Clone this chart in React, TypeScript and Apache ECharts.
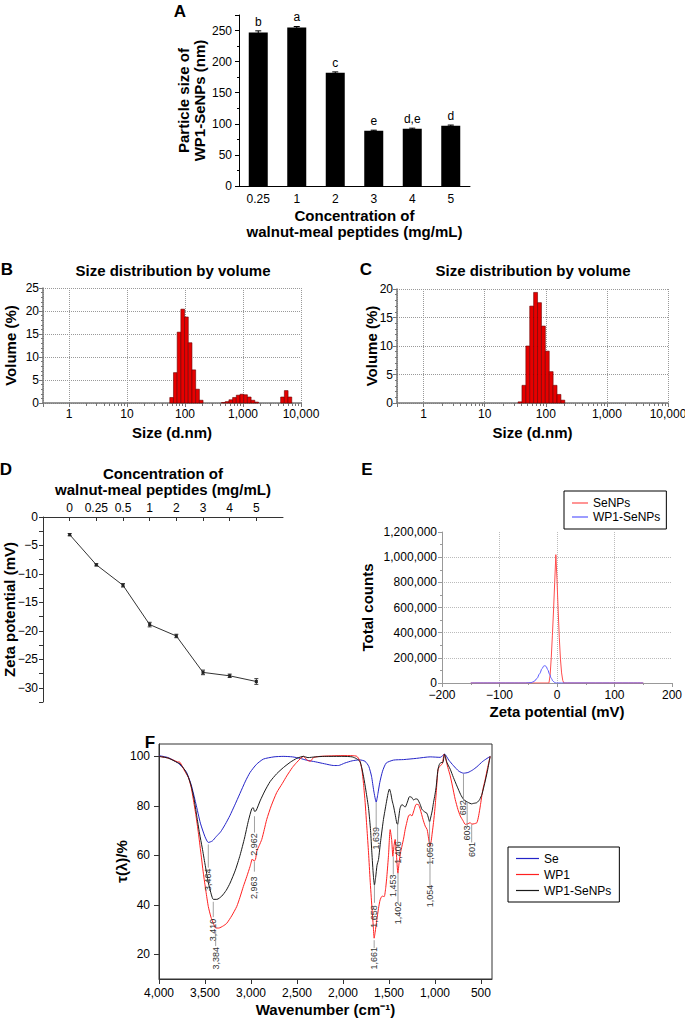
import React, { useEffect, useRef } from 'react';
import * as echarts from 'echarts';

const FONT = '"Liberation Sans", Arial, Helvetica, sans-serif';

// ---------- Panel A ----------
const aCategories = ['0.25', '1', '2', '3', '4', '5'];
const aSizes = [247, 255, 182, 89, 92, 97];
const aErrors = [2.5, 1.5, 1.5, 0.8, 1.0, 1.0];
const aLetters = ['b', 'a', 'c', 'e', 'd,e', 'd'];

// ---------- Panel B / C ----------
const bSizes = [58.77, 68.06, 78.82, 91.28, 105.7, 122.4, 141.8, 164.2, 190.1, 458.7, 531.2, 615.1, 712.4, 825.0, 955.4, 1106, 1281, 1484, 1718, 4801, 5560, 6439];
const bVolumes = [1.2, 6.6, 15.4, 20.4, 18.7, 13.1, 7.2, 3.0, 0.6, 0.1, 0.3, 0.7, 1.2, 1.7, 1.9, 1.8, 1.3, 0.6, 0.2, 1.3, 2.7, 1.3];
const cSizes = [37.84, 43.82, 50.75, 58.77, 68.06, 78.82, 91.28, 105.7, 122.4, 141.8, 164.2, 190.1];
const cVolumes = [0.2, 3.1, 10.0, 17.0, 19.4, 17.6, 13.5, 9.1, 5.5, 3.1, 1.5, 0.5];
const sizeMinorTicks = [2, 3, 4, 5, 6, 7, 8, 9, 20, 30, 40, 50, 60, 70, 80, 90, 200, 300, 400, 500, 600, 700, 800, 900, 2000, 3000, 4000, 5000, 6000, 7000, 8000, 9000];
const BIN_HALF = 1.0763;

// ---------- Panel D ----------
const dConcentrations = ['0', '0.25', '0.5', '1', '2', '3', '4', '5'];
const dZeta = [-3.1, -8.4, -12.0, -18.9, -20.9, -27.3, -27.9, -28.9];
const dErrors = [0.2, 0.2, 0.3, 0.4, 0.3, 0.4, 0.3, 0.5];
const dPositions = [0, 1, 2, 3, 4, 5, 6, 7];
const dZetaLabels = [0, -5, -10, -15, -20, -25, -30];
const dZetaTicks = [0, -2.5, -5, -7.5, -10, -12.5, -15, -17.5, -20, -22.5, -25, -27.5, -30, -32.5];

// ---------- Panel E ----------
const eSeNPs = [[-150, 0], [-40, 0], [-14, 0], [-12, 60000], [-10, 200000], [-8, 380000], [-6, 580000], [-4, 800000], [-2, 1020000], [0, 820000], [2, 580000], [4, 360000], [6, 190000], [8, 80000], [10, 20000], [12, 0], [150, 0]];
const eWP1SeNPs = [[-150, 0], [-55, 0], [-45, 3000], [-40, 12000], [-35, 35000], [-30, 75000], [-26, 115000], [-23, 135000], [-21, 138000], [-19, 132000], [-16, 105000], [-13, 70000], [-10, 38000], [-7, 15000], [-4, 4000], [-1, 0], [150, 0]];

// ---------- Panel F ----------
const fSe = [[4000, 100.3], [3900, 99.5], [3800, 97.5], [3750, 95.8], [3700, 93.5], [3650, 88.5], [3600, 81], [3550, 73], [3500, 67.5], [3464, 65.2], [3420, 65.8], [3380, 67.5], [3330, 69.5], [3280, 72.5], [3230, 76], [3180, 80], [3120, 85], [3060, 90], [3010, 93.5], [2940, 96.8], [2865, 98.9], [2750, 99.8], [2650, 100], [2550, 99.8], [2466, 99.2], [2400, 98.5], [2300, 97.8], [2200, 97], [2100, 96.3], [2050, 96.3], [1980, 97.3], [1900, 98.2], [1820, 98.6], [1760, 98], [1720, 96], [1690, 92], [1665, 86], [1639, 81.5], [1620, 85], [1600, 89.4], [1570, 94], [1530, 97.3], [1450, 98.5], [1342, 98.7], [1200, 99.2], [1052, 99.8], [943, 99.6], [896, 100.9], [850, 98.5], [798, 96.2], [740, 94], [689, 93.2], [640, 93.5], [590, 94.5], [544, 95.8], [480, 98], [400, 100]];
const fWP1 = [[4000, 100], [3900, 99.3], [3800, 97.8], [3772, 97.6], [3720, 94], [3681, 91.5], [3650, 87.5], [3627, 82.6], [3600, 76.5], [3572, 69.1], [3545, 61], [3518, 52.8], [3490, 45.5], [3464, 39.3], [3435, 35], [3409, 32.5], [3384, 30.6], [3350, 30.6], [3300, 31.5], [3264, 32.5], [3210, 35.5], [3155, 39.3], [3120, 43], [3083, 47.4], [3045, 51.5], [3010, 55.5], [2985, 58.5], [2966, 57.6], [2950, 58.5], [2938, 61.6], [2910, 64], [2883, 66.4], [2855, 70.5], [2829, 74.5], [2780, 80], [2720, 85.4], [2660, 89], [2611, 92.1], [2550, 95.5], [2502, 97.6], [2430, 100], [2390, 98.5], [2357, 98], [2320, 99.5], [2250, 100], [2000, 100.3], [1900, 100.3], [1849, 100], [1820, 98.5], [1795, 94.8], [1777, 89], [1759, 81.3], [1740, 71], [1722, 61], [1705, 50], [1686, 39.3], [1670, 31], [1661, 26.5], [1650, 29], [1632, 33.9], [1614, 38.5], [1596, 42], [1574, 43.5], [1552, 43.3], [1535, 47], [1523, 51.5], [1505, 60], [1487, 70.4], [1470, 66], [1458, 59.6], [1445, 64], [1433, 66.4], [1420, 61], [1403, 52.8], [1390, 57], [1375, 61], [1359, 63.7], [1340, 67], [1324, 70.4], [1305, 73.5], [1288, 75.9], [1270, 76.5], [1251, 75.9], [1230, 78], [1204, 80.6], [1180, 80.5], [1160, 78.6], [1130, 74.5], [1106, 71.8], [1085, 70.4], [1070, 67], [1054, 63.7], [1040, 66], [1030, 69], [1016, 73.2], [1000, 79], [986, 85.4], [966, 94.8], [943, 96.2], [920, 97], [900, 100.9], [880, 98.5], [860, 95.5], [834, 92.1], [810, 88], [780, 82.6], [750, 78.5], [725, 75.9], [695, 74], [671, 72.5], [640, 72.8], [616, 73.2], [601, 72.6], [570, 72.8], [544, 73.2], [525, 76], [507, 80], [480, 86.5], [453, 90.8], [430, 95], [400, 100]];
const fWP1SeNPs = [[4000, 100], [3900, 99.3], [3800, 97.5], [3770, 96.9], [3720, 94.5], [3680, 91.5], [3650, 88], [3620, 83], [3590, 76], [3560, 69], [3530, 63], [3500, 56.5], [3464, 49], [3430, 44], [3410, 42.2], [3370, 42.2], [3318, 43.5], [3270, 45.8], [3227, 48.8], [3170, 54], [3119, 60], [3070, 67], [3028, 74], [2991, 78.9], [2975, 79.2], [2962, 77.8], [2945, 78], [2901, 82], [2850, 86], [2792, 89.8], [2720, 93], [2647, 95.5], [2570, 97.7], [2502, 99.2], [2430, 100], [2380, 99.5], [2300, 99.8], [2200, 100], [2000, 100], [1900, 99.8], [1850, 99], [1813, 97.8], [1777, 92], [1750, 86], [1722, 79], [1700, 70], [1686, 61], [1670, 52], [1658, 48], [1645, 51], [1630, 56], [1614, 58.3], [1590, 66], [1560, 74.5], [1530, 81], [1510, 85], [1495, 86.8], [1480, 85], [1465, 82], [1451, 80], [1430, 76], [1415, 73], [1406, 72.5], [1395, 75], [1380, 79], [1360, 80.5], [1340, 80], [1324, 79.5], [1300, 81.5], [1277, 83.7], [1255, 83.5], [1233, 82.4], [1210, 82.8], [1190, 82.7], [1160, 80.5], [1142, 78.6], [1110, 77.5], [1088, 77], [1070, 75], [1059, 73.5], [1045, 75.5], [1030, 78], [1016, 81.3], [1000, 84.5], [986, 88], [970, 94], [955, 96.5], [935, 97.5], [915, 97.5], [896, 100.9], [870, 97.5], [834, 94.8], [800, 91.5], [761, 88], [720, 84.5], [689, 82.6], [660, 81.8], [635, 81.3], [603, 80.8], [580, 81], [544, 81.3], [515, 82.5], [489, 84.7], [460, 89], [430, 94], [400, 100]];
const fWavenumberTicks = [4000, 3500, 3000, 2500, 2000, 1500, 1000, 500];
const fTransmittanceTicks = [20, 40, 60, 80, 100];
const fPeakLabels = ['3,464', '3,410', '3,384', '2,962', '2,963', '1,639', '1,658', '1,661', '1,453', '1,406', '1,402', '1,059', '1,054', '682', '603', '601'];
const fPeakWn = [3464, 3410, 3384, 2962, 2963, 1639, 1658, 1661, 1453, 1406, 1402, 1059, 1054, 690, 650, 601];
const fPeakLineTop = [64.4, 41.2, 29.4, 75.8, 57.5, 81.4, 48.1, 25.7, 59.5, 72.5, 53.0, 73.8, 63.6, 92.9, 81.5, 72.5];
const fPeakLineBottom = [55.0, 35.0, 23.3, 69.2, 53.4, 71.3, 40.8, 22.5, 52.2, 65.2, 40.8, 64.4, 46.9, 81.9, 71.7, 65.2];
const fPeakTextY = [50.1, 29.8, 18.4, 64.4, 46.9, 66.9, 35.3, 18.4, 47.7, 61.1, 36.7, 60.7, 43.6, 79.2, 69.0, 62.4];

const minus = (v: number) => (v < 0 ? '\u2212' + Math.abs(v) : String(v));
const thousands = (v: number) => {
  const s = Math.abs(v).toLocaleString('en-US');
  return v < 0 ? '\u2212' + s : s;
};
const decadeLabel = (v: number) => {
  const l = Math.log10(v);
  const r = Math.round(l);
  return Math.abs(l - r) < 0.01 ? Math.pow(10, r).toLocaleString('en-US') : '';
};

const nameStyle = { fontWeight: 'bold', fontSize: 15, color: '#000', fontFamily: FONT, lineHeight: 16 };
const labelStyle = { fontSize: 12, color: '#000', fontFamily: FONT };

function errorItem(capHalf: number, color: string) {
  return (params: any, api: any) => {
    const x = api.value(0);
    const lo = api.coord([x, api.value(1)]);
    const hi = api.coord([x, api.value(2)]);
    const st = { stroke: color, lineWidth: 1 };
    return {
      type: 'group',
      children: [
        { type: 'line', shape: { x1: lo[0], y1: lo[1], x2: hi[0], y2: hi[1] }, style: st },
        { type: 'line', shape: { x1: hi[0] - capHalf, y1: hi[1], x2: hi[0] + capHalf, y2: hi[1] }, style: st },
        { type: 'line', shape: { x1: lo[0] - capHalf, y1: lo[1], x2: lo[0] + capHalf, y2: lo[1] }, style: st },
      ],
    };
  };
}

function histItem(params: any, api: any) {
  const s = api.value(0);
  const v = api.value(1);
  const p0 = api.coord([s / BIN_HALF, v]);
  const p1 = api.coord([s * BIN_HALF, 0]);
  return {
    type: 'rect',
    shape: { x: p0[0], y: p0[1], width: p1[0] - p0[0], height: p1[1] - p0[1] },
    style: { fill: '#e60000', stroke: '#6a0000', lineWidth: 0.6 },
  };
}

function peakItem(params: any, api: any) {
  const wn = api.value(0);
  const a = api.coord([wn, api.value(1)]);
  const b = api.coord([wn, api.value(2)]);
  const t = api.coord([wn, api.value(3)]);
  return {
    type: 'group',
    children: [
      { type: 'line', shape: { x1: a[0], y1: a[1], x2: b[0], y2: b[1] }, style: { stroke: '#8a8a8a', lineWidth: 0.8 } },
      {
        type: 'text', x: t[0], y: t[1], rotation: Math.PI / 2,
        style: {
          text: fPeakLabels[params.dataIndex], fontSize: 9, fontFamily: FONT, fill: '#333',
          textAlign: 'center', textVerticalAlign: 'middle', align: 'center', verticalAlign: 'middle',
        },
      },
    ],
  };
}

function txt(text: string, x: number, y: number, size: number) {
  return {
    type: 'text', x, y,
    style: {
      text, fontSize: size, fontWeight: 'bold', fontFamily: FONT, fill: '#000',
      textAlign: 'center', textVerticalAlign: 'middle', align: 'center', verticalAlign: 'middle',
    },
  };
}

function buildOption(): any {
  const bMin = 0.3556;
  const cMin = 0.367;
  const logMain = (grid: number, min: number) => ({
    gridIndex: grid, type: 'log', logBase: 10, min, max: 10000,
    axisLine: { show: true, onZero: false, lineStyle: { color: '#777', width: 1.5 } },
    axisTick: { show: true, length: 4, lineStyle: { color: '#777' } },
    axisLabel: { ...labelStyle, margin: 5, formatter: decadeLabel, hideOverlap: false },
    splitLine: { show: true, lineStyle: { type: 'dotted', color: '#999' } },
    name: 'Size (d.nm)', nameLocation: 'middle', nameGap: 21, nameTextStyle: nameStyle, nameMoveOverlap: false,
  });
  const logMinor = (grid: number, min: number) => ({
    gridIndex: grid, type: 'log', logBase: 10, min, max: 10000, position: 'bottom',
    axisLine: { show: false, onZero: false },
    axisTick: { show: true, length: 3, customValues: sizeMinorTicks, lineStyle: { color: '#777' } },
    axisLabel: { show: false },
    splitLine: { show: false },
  });
  const volAxis = (grid: number, max: number, gap: number) => ({
    gridIndex: grid, type: 'value', min: 0, max, interval: 5,
    axisLine: { show: true, onZero: false, lineStyle: { color: '#777', width: 1.5 } },
    axisTick: { show: true, length: 4, lineStyle: { color: '#777' } },
    minorTick: { show: true, splitNumber: 5, length: 2, lineStyle: { color: '#777' } },
    axisLabel: { ...labelStyle, margin: 4 },
    splitLine: { show: true, lineStyle: { type: 'dotted', color: '#999' } },
    name: 'Volume (%)', nameLocation: 'middle', nameGap: gap, nameTextStyle: nameStyle, nameMoveOverlap: false,
  });
  const legendBase = {
    orient: 'vertical', icon: 'rect', itemHeight: 1.2,
    borderColor: '#000', borderWidth: 1, borderRadius: 0, selectedMode: false,
    textStyle: { ...labelStyle, lineHeight: 12 },
  };

  return {
    animation: false,
    backgroundColor: '#fff',
    textStyle: { fontFamily: FONT },
    grid: [
      { left: 239, top: 15, width: 231, height: 171, outerBoundsMode: 'none' },
      { left: 43, top: 288, width: 258, height: 115, outerBoundsMode: 'none' },
      { left: 397, top: 289, width: 271, height: 114, outerBoundsMode: 'none' },
      { left: 43, top: 517, width: 240, height: 185, outerBoundsMode: 'none' },
      { left: 442, top: 532, width: 230, height: 151, outerBoundsMode: 'none' },
      { left: 159, top: 744, width: 333, height: 235, outerBoundsMode: 'none', show: true, borderColor: '#333', borderWidth: 1 },
    ],
    xAxis: [
      {
        gridIndex: 0, type: 'category', data: aCategories,
        axisLine: { show: true, onZero: false, lineStyle: { color: '#000' } },
        axisTick: { show: false },
        axisLabel: { ...labelStyle, margin: 7 },
        name: 'Concentration of\nwalnut-meal peptides (mg/mL)', nameLocation: 'middle', nameGap: 21,
        nameTextStyle: nameStyle, nameMoveOverlap: false,
      },
      logMain(1, bMin),
      logMinor(1, bMin),
      logMain(2, cMin),
      logMinor(2, cMin),
      {
        gridIndex: 3, type: 'value', position: 'top', min: -1, max: 8,
        axisLine: { show: true, onZero: false, lineStyle: { color: '#333' } },
        axisTick: { show: true, inside: true, length: 4, customValues: dPositions, lineStyle: { color: '#333' } },
        axisLabel: { ...labelStyle, margin: 3, customValues: dPositions, formatter: (v: number) => dConcentrations[Math.round(v)] ?? '' },
        splitLine: { show: false },
        name: 'Concentration of\nwalnut-meal peptides (mg/mL)', nameLocation: 'middle', nameGap: 20,
        nameTextStyle: nameStyle, nameMoveOverlap: false,
      },
      {
        gridIndex: 4, type: 'value', min: -200, max: 200, interval: 100,
        axisLine: { show: true, onZero: false, lineStyle: { color: '#999' } },
        axisTick: { show: true, length: 4, lineStyle: { color: '#999' } },
        minorTick: { show: true, splitNumber: 2, length: 2, lineStyle: { color: '#999' } },
        axisLabel: { ...labelStyle, margin: 6, formatter: (v: number) => minus(v) },
        splitLine: { show: true, showMinLine: false, showMaxLine: false, lineStyle: { type: 'dotted', color: '#bbb' } },
        name: 'Zeta potential (mV)', nameLocation: 'middle', nameGap: 20, nameTextStyle: nameStyle, nameMoveOverlap: false,
      },
      {
        gridIndex: 5, type: 'value', inverse: true, min: 380, max: 4000,
        axisLine: { show: true, onZero: false, lineStyle: { color: '#333' } },
        axisTick: { show: true, length: 5, customValues: fWavenumberTicks, lineStyle: { color: '#333' } },
        axisLabel: { ...labelStyle, margin: 8, customValues: fWavenumberTicks, formatter: (v: number) => thousands(v) },
        splitLine: { show: false },
        name: 'Wavenumber (cm\u207B\u00B9)', nameLocation: 'middle', nameGap: 23,
        nameTextStyle: { ...nameStyle, lineHeight: 15 }, nameMoveOverlap: false,
      },
    ],
    yAxis: [
      {
        gridIndex: 0, type: 'value', min: 0, max: 275, interval: 50,
        axisLine: { show: true, onZero: false, lineStyle: { color: '#000' } },
        axisTick: { show: true, length: 4, lineStyle: { color: '#000' } },
        minorTick: { show: true, splitNumber: 2, length: 2, lineStyle: { color: '#000' } },
        axisLabel: { ...labelStyle, margin: 7, formatter: (v: number) => (v % 50 === 0 ? String(v) : '') },
        splitLine: { show: false },
        name: 'Particle size of\nWP1-SeNPs (nm)', nameLocation: 'middle', nameGap: 32, nameTextStyle: nameStyle, nameMoveOverlap: false,
      },
      volAxis(1, 25, 25),
      volAxis(2, 20, 18),
      {
        gridIndex: 3, type: 'value', min: -32.5, max: 0,
        axisLine: { show: true, onZero: false, lineStyle: { color: '#333' } },
        axisTick: { show: true, length: 4, customValues: dZetaTicks, lineStyle: { color: '#333' } },
        axisLabel: { ...labelStyle, margin: 5, customValues: dZetaLabels, formatter: (v: number) => minus(v) },
        splitLine: { show: false },
        name: 'Zeta potential (mV)', nameLocation: 'middle', nameGap: 26, nameTextStyle: nameStyle, nameMoveOverlap: false,
      },
      {
        gridIndex: 4, type: 'value', min: 0, max: 1200000, interval: 200000,
        axisLine: { show: true, onZero: false, lineStyle: { color: '#999' } },
        axisTick: { show: true, length: 4, lineStyle: { color: '#999' } },
        minorTick: { show: true, splitNumber: 2, length: 2, lineStyle: { color: '#999' } },
        axisLabel: { ...labelStyle, margin: 5, formatter: (v: number) => thousands(v) },
        splitLine: { show: true, showMinLine: false, showMaxLine: false, lineStyle: { type: 'dotted', color: '#bbb' } },
        name: 'Total counts', nameLocation: 'middle', nameGap: 67, nameTextStyle: nameStyle, nameMoveOverlap: false,
      },
      {
        gridIndex: 5, type: 'value', min: 10, max: 105,
        axisLine: { show: true, onZero: false, lineStyle: { color: '#333' } },
        axisTick: { show: true, length: 5, customValues: fTransmittanceTicks, lineStyle: { color: '#333' } },
        axisLabel: { ...labelStyle, margin: 9, customValues: fTransmittanceTicks },
        splitLine: { show: false },
        name: '\u03C4(\u03BB)/%', nameLocation: 'middle', nameGap: 30, nameTextStyle: nameStyle, nameMoveOverlap: false,
      },
    ],
    legend: [
      {
        ...legendBase,
        data: ['SeNPs', 'WP1-SeNPs'], left: 564, top: 491,
        padding: [6, 6, 6, 8], itemGap: 2, itemWidth: 16,
      },
      {
        ...legendBase,
        data: ['Se', 'WP1', 'WP1-SeNPs\u200B'], left: 508, top: 847,
        padding: [5.5, 8, 5.5, 8], itemGap: 4, itemWidth: 23,
      },
    ],
    graphic: [
      txt('A', 180, 11, 17),
      txt('B', 7, 269, 17),
      txt('C', 366, 269, 17),
      txt('D', 6, 469, 17),
      txt('E', 367, 469, 17),
      txt('F', 150, 742, 17),
      txt('Size distribution by volume', 173, 270, 15),
      txt('Size distribution by volume', 533, 270, 15),
    ],
    series: [
      {
        type: 'bar', xAxisIndex: 0, yAxisIndex: 0, data: aSizes, barWidth: 19,
        itemStyle: { color: '#000' },
        label: {
          show: true, position: 'top', distance: 4, ...labelStyle,
          formatter: (p: any) => aLetters[p.dataIndex],
        },
      },
      {
        type: 'custom', xAxisIndex: 0, yAxisIndex: 0, clip: false,
        encode: { x: 0, y: [1, 2] },
        data: aSizes.map((v, i) => [i, v - aErrors[i], v + aErrors[i]]),
        renderItem: errorItem(3, '#000'),
      },
      {
        type: 'custom', xAxisIndex: 1, yAxisIndex: 1, clip: false,
        encode: { x: 0, y: 1 },
        data: bSizes.map((s, i) => [s, bVolumes[i]]),
        renderItem: histItem,
      },
      {
        type: 'custom', xAxisIndex: 3, yAxisIndex: 2, clip: false,
        encode: { x: 0, y: 1 },
        data: cSizes.map((s, i) => [s, cVolumes[i]]),
        renderItem: histItem,
      },
      {
        type: 'line', xAxisIndex: 5, yAxisIndex: 3,
        data: dPositions.map((p, i) => [p, dZeta[i]]),
        lineStyle: { color: '#333', width: 1 }, itemStyle: { color: '#222' },
        symbol: 'rect', symbolSize: 3,
      },
      {
        type: 'custom', xAxisIndex: 5, yAxisIndex: 3, clip: false,
        encode: { x: 0, y: [1, 2] },
        data: dPositions.map((p, i) => [p, dZeta[i] - dErrors[i], dZeta[i] + dErrors[i]]),
        renderItem: errorItem(2, '#333'),
      },
      {
        name: 'SeNPs', type: 'line', xAxisIndex: 6, yAxisIndex: 4, data: eSeNPs,
        symbol: 'none', lineStyle: { color: '#ff4d4d', width: 1 }, itemStyle: { color: '#ff4d4d' },
      },
      {
        name: 'WP1-SeNPs', type: 'line', xAxisIndex: 6, yAxisIndex: 4, data: eWP1SeNPs,
        symbol: 'none', smooth: 0.3, smoothMonotone: 'x',
        lineStyle: { color: '#5a5aff', width: 1 }, itemStyle: { color: '#5a5aff' },
      },
      {
        name: 'Se', type: 'line', xAxisIndex: 7, yAxisIndex: 5, data: fSe,
        symbol: 'none', smooth: 0.2, lineStyle: { color: '#2424c8', width: 1 }, itemStyle: { color: '#2424c8' },
      },
      {
        name: 'WP1', type: 'line', xAxisIndex: 7, yAxisIndex: 5, data: fWP1,
        symbol: 'none', smooth: 0.2, lineStyle: { color: '#ff2020', width: 1 }, itemStyle: { color: '#ff2020' },
      },
      {
        name: 'WP1-SeNPs\u200B', type: 'line', xAxisIndex: 7, yAxisIndex: 5, data: fWP1SeNPs,
        symbol: 'none', smooth: 0.2, lineStyle: { color: '#1a1a1a', width: 1 }, itemStyle: { color: '#1a1a1a' },
      },
      {
        type: 'custom', xAxisIndex: 7, yAxisIndex: 5, clip: false, z: 5,
        encode: { x: 0, y: [1, 2, 3] },
        data: fPeakWn.map((w, i) => [w, fPeakLineTop[i], fPeakLineBottom[i], fPeakTextY[i]]),
        renderItem: peakItem,
      },
    ],
  };
}

export default function App() {
  const ref = useRef<HTMLDivElement>(null);
  useEffect(() => {
    if (!ref.current) return;
    const chart = echarts.init(ref.current, null, { renderer: 'svg' });
    chart.setOption(buildOption());
    return () => chart.dispose();
  }, []);
  return (
    <div
      ref={ref}
      style={{ position: 'absolute', left: 0, top: 0, width: 685, height: 1019, background: '#fff' }}
    />
  );
}
